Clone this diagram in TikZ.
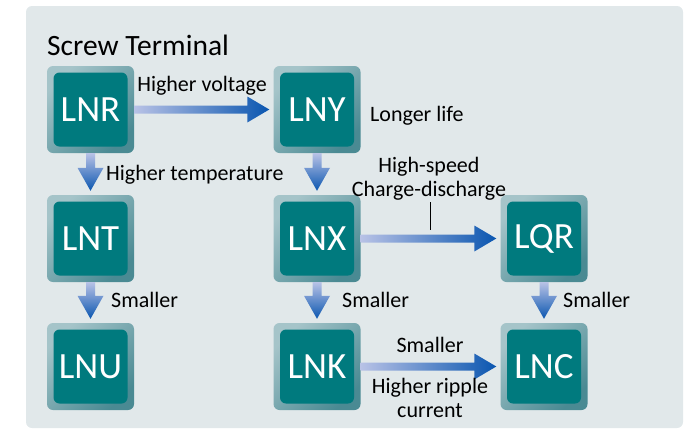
\documentclass[tikz,border=0pt]{standalone}
\usepackage{fontspec}
\setmainfont{Carlito}
\usepackage{xcolor}
\usepackage{tikz}
\usetikzlibrary{calc}

\definecolor{panelgray}{HTML}{E1E8EA}
\definecolor{boxlight}{HTML}{A5C4C9}
\definecolor{boxdark}{HTML}{4A8A93}
\definecolor{boxteal}{HTML}{007A7E}
\definecolor{arrlight}{HTML}{B8C2E6}
\definecolor{arrdark}{HTML}{0A56B0}

\tikzset{
    seriesbox/.style={
        rectangle, rounded corners=6pt, minimum size=87pt, inner sep=0pt,
        top color=boxlight, bottom color=boxdark, shading angle=45,
        text=white, font=\fontsize{37}{40}\selectfont,
        path picture={
            \fill[boxteal, rounded corners=6pt]
                ([shift={(6.5pt,6.5pt)}]path picture bounding box.south west)
                rectangle ([shift={(-6.5pt,-6.5pt)}]path picture bounding box.north east);
        }
    },
    note/.style={inner sep=0pt, font=\fontsize{22}{24}\selectfont}
}

\begin{document}
\begin{tikzpicture}[
        x=1pt, y=-1pt
    ]
        \useasboundingbox (0,0) rectangle (687,429);
        \fill[panelgray, rounded corners=6pt] (26,6) rectangle (683,428);

        \node[inner sep=0pt, anchor=west, font=\fontsize{29.5}{32}\selectfont] (title) at (47,45) {Screw Terminal};

        % series boxes
        \node[seriesbox] (LNR) at (90.5,109.5) {LNR};
        \node[seriesbox] (LNT) at (90.5,238.5) {LNT};
        \node[seriesbox] (LNU) at (90.5,366.5) {LNU};
        \node[seriesbox] (LNY) at (317,109.5) {LNY};
        \node[seriesbox] (LNX) at (317,238.5) {LNX};
        \node[seriesbox] (LNK) at (317,366.5) {LNK};
        \node[seriesbox] (LQR) at (544,238.5) {LQR};
        \node[seriesbox] (LNC) at (544,366.5) {LNC};

        % downward arrows
        \foreach \a/\b in {LNR/LNT, LNT/LNU, LNY/LNX, LNX/LNK, LQR/LNC}
            \shade[top color=arrlight, bottom color=arrdark]
                let \p1=(\a.south), \p2=(\b.north) in
                (\x1-4.5pt,\y1) -- (\x1-4.5pt,\y2+27pt) -- (\x1-13pt,\y2+27pt)
                -- (\x1,\y2+4pt) -- (\x1+13pt,\y2+27pt) -- (\x1+4.5pt,\y2+27pt)
                -- (\x1+4.5pt,\y1) -- cycle;

        % rightward arrows
        \foreach \a/\b in {LNR/LNY, LNX/LQR, LNK/LNC}
            \shade[left color=arrlight, right color=arrdark]
                let \p1=(\a.east), \p2=(\b.west) in
                (\x1,\y1+4pt) -- (\x2-26pt,\y1+4pt) -- (\x2-26pt,\y1+13pt)
                -- (\x2-4pt,\y1) -- (\x2-26pt,\y1-13pt) -- (\x2-26pt,\y1-4pt)
                -- (\x1,\y1-4pt) -- cycle;

        % labels
        \node[note] (volt) at (202,86) {Higher voltage};
        \node[note, anchor=west] (temp) at (106,175) {Higher temperature};
        \node[note, anchor=west] (life) at (370,116) {Longer life};
        \node[note, anchor=north, align=center] (speed) at (429,157) {High-speed\\Charge-discharge};
        \coordinate (tick) at (430,230);
        \draw[line width=1pt] ([yshift=-2pt]speed.south -| tick) -- (tick);

        \node[note, anchor=west] (small1) at (111,300) {Smaller};
        \node[note, anchor=west] (small2) at (342,300) {Smaller};
        \node[note, anchor=west] (small3) at (563,300) {Smaller};
        \node[note] (small4) at (430,345) {Smaller};
        \node[note, anchor=north, align=center] (ripple) at (430,378) {Higher ripple\\current};

    \end{tikzpicture}
\end{document}
